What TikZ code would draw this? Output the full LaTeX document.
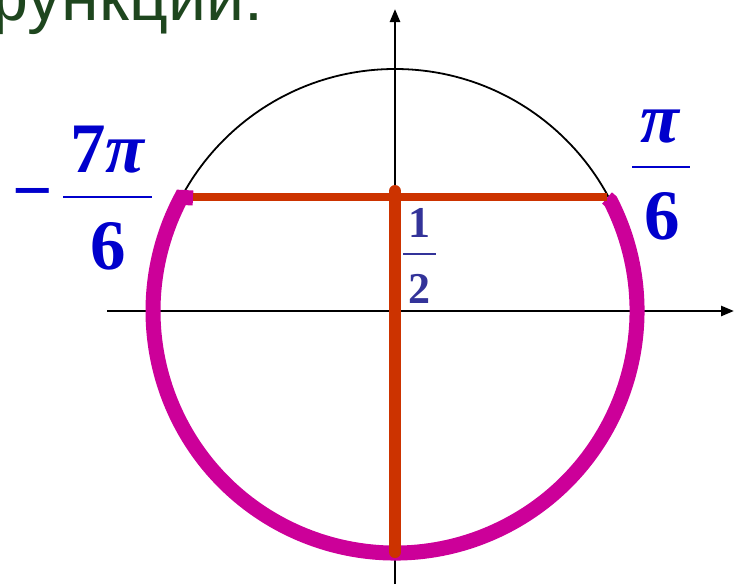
\documentclass[tikz,border=0pt]{standalone}
\usepackage{fontspec}
\setmainfont{Liberation Serif}
\newfontfamily\titlesans{Liberation Sans}
\usetikzlibrary{arrows.meta}
\definecolor{titlegreen}{RGB}{30,70,30}
\definecolor{fracblue}{RGB}{0,0,204}
\definecolor{halfblue}{RGB}{51,51,153}
\definecolor{arcmag}{RGB}{204,0,153}
\definecolor{segred}{RGB}{204,51,0}
\begin{document}
\begin{tikzpicture}[x=1pt,y=-1pt,
  bigfrac/.style={text=fracblue, font=\fontsize{71}{71}\selectfont\bfseries, inner sep=0pt, anchor=base},
  smallfrac/.style={text=halfblue, font=\fontsize{44}{44}\selectfont\bfseries, inner sep=0pt, anchor=base},
  axisline/.style={line width=2.5pt, -{Triangle[length=13pt,width=10pt]}},
  thincircle/.style={line width=1.8pt},
  magarc/.style={draw=arcmag, line width=15pt},
  hseg/.style={draw=segred, line width=8pt},
  vseg/.style={draw=segred, line width=12pt, line cap=round},
  bigbar/.style={draw=fracblue, line width=2.7pt},
  smallbar/.style={draw=halfblue, line width=2pt}]
\useasboundingbox (0,0) rectangle (734,584);
% axes
\coordinate (O) at (395,311);
\coordinate (xs) at (107,311);
\coordinate (xe) at (734,311);
\coordinate (ys) at (395,584);
\coordinate (ye) at (395,9);
\draw[axisline] (xs) -- (xe);
\draw[axisline] (ys) -- (ye);
% unit circle
\draw[thincircle] (O) circle[radius=242];
% magenta arc
\coordinate (ml) at (193,198);
\coordinate (mr) at (607,198);
\draw[magarc] (mr) -- ([shift={(-27:242)}]O) arc[start angle=-27, end angle=208, radius=242] -- (ml);
% red segments
\coordinate (hl) at (193,197);
\coordinate (hr) at (607,197);
\draw[hseg] (hl) -- (hr);
\coordinate (vt) at (395,191);
\coordinate (vb) at (395,552);
\draw[vseg] (vt) -- (vb);
% title fragment
\node[text=titlegreen, font=\titlesans\fontsize{68}{68}\selectfont, anchor=base east, inner sep=0pt] (ttl) at (263,20) {функции:};
% -7pi/6
\node[bigfrac] (mn) at (32.5,214) {−};
\node[bigfrac] (n7) at (108,172) {7\textit{π}};
\coordinate (bl1) at (63,197);
\coordinate (bl2) at (152,197);
\draw[bigbar] (bl1) -- (bl2);
\node[bigfrac] (d6l) at (108,269) {6};
% pi/6
\node[bigfrac] (npi) at (661,142) {\textit{π}};
\coordinate (br1) at (632,167);
\coordinate (br2) at (690,167);
\draw[bigbar] (br1) -- (br2);
\node[bigfrac] (d6r) at (662,239) {6};
% 1/2
\node[smallfrac] (n1) at (419,237) {1};
\coordinate (bh1) at (403,254);
\coordinate (bh2) at (436,254);
\draw[smallbar] (bh1) -- (bh2);
\node[smallfrac] (n2) at (419,303) {2};
\end{tikzpicture}
\end{document}
